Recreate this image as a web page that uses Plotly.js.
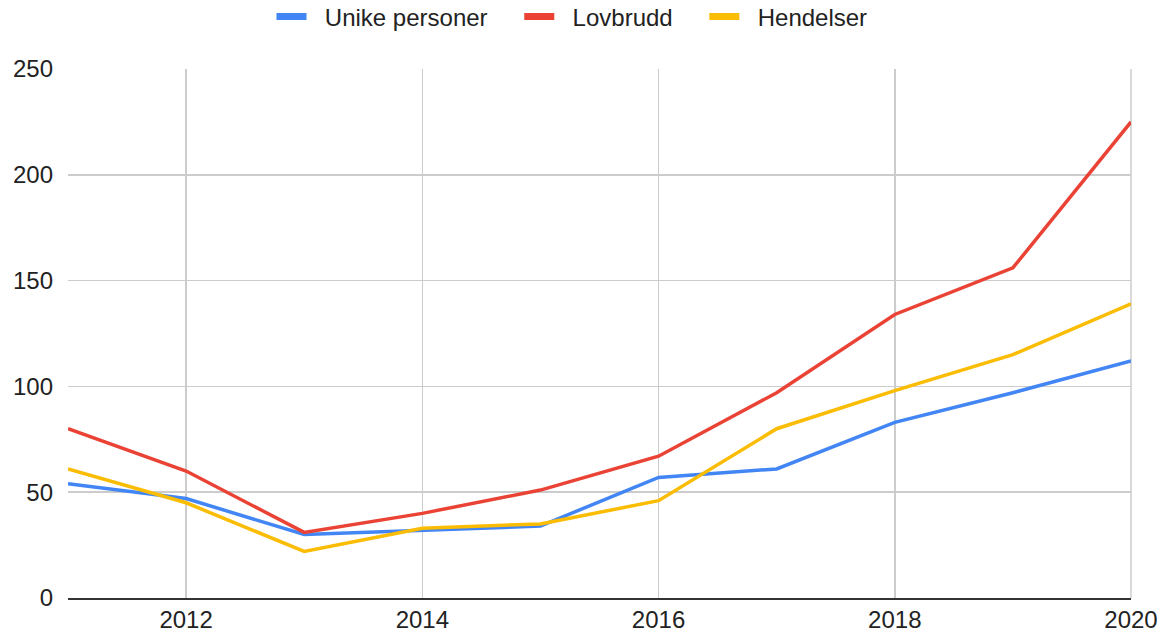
<!DOCTYPE html>
<html>
<head>
<meta charset="utf-8">
<script src="https://cdn.plot.ly/plotly-3.0.1.min.js"></script>
<style>html,body{margin:0;padding:0;background:#fff;}#chart{width:1161px;height:634px;}</style>
</head>
<body>
<div id="chart"></div>
<script>
const years = [2011, 2012, 2013, 2014, 2015, 2016, 2017, 2018, 2019, 2020];
const unikePersoner = [54, 47, 30, 32, 34, 57, 61, 83, 97, 112];
const lovbrudd = [80, 60, 31, 40, 51, 67, 97, 134, 156, 225];
const hendelser = [61, 45, 22, 33, 35, 46, 80, 98, 115, 139];
const seriesNames = ['Unike personer', 'Lovbrudd', 'Hendelser'];
const xTicks = [2012, 2014, 2016, 2018, 2020];
const yTicks = [0, 50, 100, 150, 200, 250];

const colors = ['#4285F4', '#EA4335', '#FBBC04'];
const series = [unikePersoner, lovbrudd, hendelser];
const NB = '\u00a0';

const traces = [];
series.forEach((vals, i) => {
  traces.push({
    x: years, y: vals, name: seriesNames[i], type: 'scatter', mode: 'lines',
    line: {color: colors[i], width: 3.5}, showlegend: false, hoverinfo: 'skip'
  });
});
series.forEach((vals, i) => {
  traces.push({
    x: [null], y: [null], name: NB + NB + seriesNames[i] + NB + NB + NB + NB, type: 'scatter', mode: 'lines',
    line: {color: colors[i], width: 7}, showlegend: true
  });
});

const layout = {
  width: 1161, height: 634,
  margin: {l: 68, r: 30, t: 69, b: 36},
  paper_bgcolor: '#fff', plot_bgcolor: '#fff',
  font: {family: 'Arial, "Liberation Sans", sans-serif', size: 24, color: '#222'},
  showlegend: true,
  legend: {
    orientation: 'h', xref: 'container', yref: 'container',
    x: 0.5 + 5 / 1161, xanchor: 'center', y: 1 - 17 / 634, yanchor: 'middle',
    itemwidth: 30, font: {size: 24, color: '#222'},
    traceorder: 'normal', itemclick: false
  },
  xaxis: {
    range: [2011, 2020], tickvals: xTicks, ticktext: xTicks.map(String),
    showgrid: true, gridcolor: '#cccccc', gridwidth: 1.5,
    zeroline: false, showline: true, linecolor: '#333333', linewidth: 1.5,
    ticks: '', fixedrange: true
  },
  yaxis: {
    range: [0, 250], tickvals: yTicks, ticktext: yTicks.map(String),
    showgrid: true, gridcolor: '#cccccc', gridwidth: 1.5,
    zeroline: false, showline: false, ticks: '', ticklabelstandoff: 14, fixedrange: true
  },
  shapes: [{
    type: 'line', xref: 'paper', yref: 'paper', x0: 1, x1: 1, y0: 0, y1: 1,
    line: {color: '#cccccc', width: 1.5}, layer: 'below'
  }]
};

Plotly.newPlot('chart', traces, layout, {displayModeBar: false, staticPlot: true});
</script>
</body>
</html>
